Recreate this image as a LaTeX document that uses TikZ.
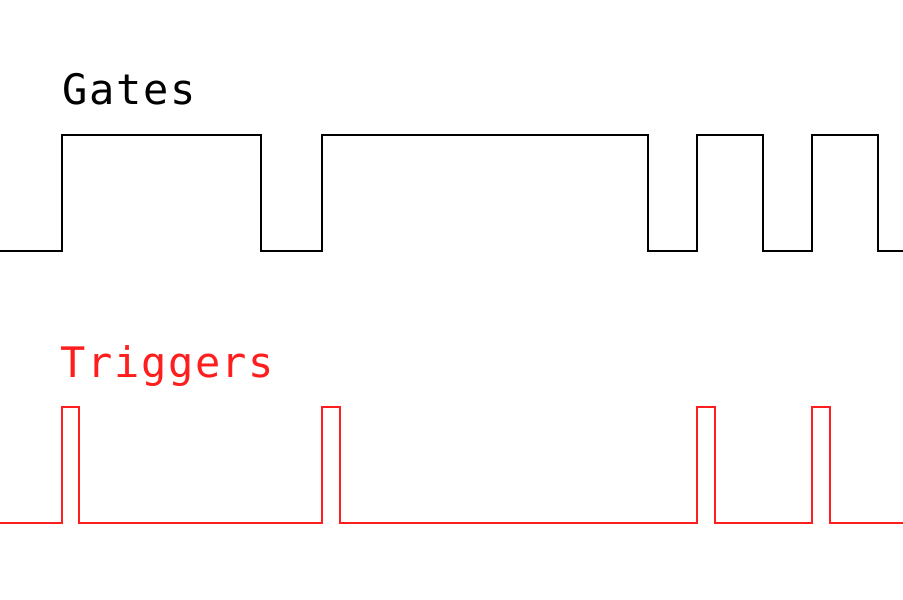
\documentclass[tikz,border=0pt]{standalone}
\usepackage{fontspec}
\newfontfamily\monof[LetterSpace=4]{DejaVu Sans Mono}
\definecolor{trig}{RGB}{255,30,30}
\begin{document}
\begin{tikzpicture}[x=1pt,y=-1pt,
  wave/.style={line width=1.6pt},
  lbl/.style={anchor=base west,inner sep=0pt,font=\monof\fontsize{42}{42}\selectfont}]
\useasboundingbox (0,0) rectangle (903,600);
\node[lbl] (g) at (62,104) {Gates};
\node[lbl,text=trig] (t) at (60,377) {Triggers};
\draw[wave] (0,251) -- (62,251) -- (62,135) -- (261,135) -- (261,251) -- (322,251) -- (322,135) -- (648,135) -- (648,251) -- (697,251) -- (697,135) -- (763,135) -- (763,251) -- (812,251) -- (812,135) -- (878,135) -- (878,251) -- (903,251);
\draw[wave,trig] (0,523) -- (62,523) -- (62,407) -- (79,407) -- (79,523) -- (322,523) -- (322,407) -- (340,407) -- (340,523) -- (697,523) -- (697,407) -- (715,407) -- (715,523) -- (812,523) -- (812,407) -- (830,407) -- (830,523) -- (903,523);
\end{tikzpicture}
\end{document}
